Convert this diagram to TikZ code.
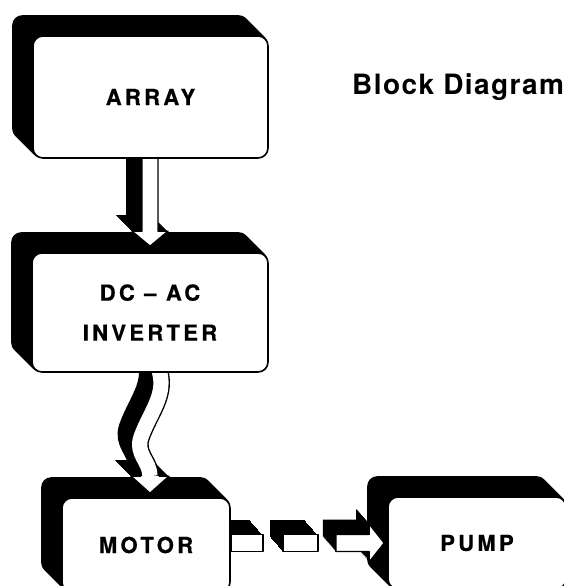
\documentclass[tikz,border=0pt]{standalone}
\usepackage{fontspec}
\newfontfamily\blockfont[LetterSpace=15, FakeBold=0.6]{TeX Gyre Heros}
\newfontfamily\titlefont[LetterSpace=5]{TeX Gyre Heros}
\usetikzlibrary{calc}
\pgfdeclarelayer{background}
\pgfsetlayers{background,main}
% hollow arrows: down from #1 to tip #2, right from #1 to tip #2
\newcommand{\arrowdn}[2]{($(#2|-#1)+(-8,0)$) -- ($(#2)+(-8,-15)$) -- ($(#2)+(-18,-15)$) -- (#2)
  -- ($(#2)+(18,-15)$) -- ($(#2)+(8,-15)$) -- ($(#2|-#1)+(8,0)$) -- cycle}
\newcommand{\arrowrt}[2]{($(#1|-#2)+(0,-8.5)$) -- ($(#2)+(-15,-8.5)$) -- ($(#2)+(-15,-19)$) -- (#2)
  -- ($(#2)+(-15,19)$) -- ($(#2)+(-15,8.5)$) -- ($(#1|-#2)+(0,8.5)$) -- cycle}
\newcommand{\wavyshaft}{(w0) .. controls +(16,30) and +(10,-28) .. (wm) .. controls +(-6,17) and +(0,-15) .. (hb)}
\newcommand{\wavyhead}{($(hb)+(-9,0)$) -- ($(hb)+(-19,0)$) -- (wt) -- ($(hb)+(19,0)$) -- ($(hb)+(9,0)$)}
\tikzset{
  block/.style={draw, line width=1.6pt, fill=white, rounded corners=10pt, inner sep=0pt,
    align=center, font=\blockfont\bfseries\fontsize{22}{40}\selectfont},
  drop/.style={fill=black, transform canvas={shift={#1}}},
  body/.style={draw, line width=1.4pt, fill=white, line join=round},
}
\begin{document}
\begin{tikzpicture}[x=1pt, y=-1pt]
  \useasboundingbox (0,0) rectangle (564,586);
  % front faces
  \node[block, minimum width=235pt, minimum height=122pt] (array) at (150.5,97) {ARRAY};
  \node[block, minimum width=236pt, minimum height=119pt] (inv) at (150,312.5) {DC – AC\\INVERTER};
  \node[block, minimum width=168pt, minimum height=94pt] (motor) at (146,545) {MOTOR};
  \node[block, minimum width=178pt, minimum height=92pt] (pump) at (477,543) {PUMP};
  \node[anchor=base west, inner sep=0pt, font=\titlefont\bfseries\fontsize{28}{32}\selectfont]
    (title) at (352,94) {Block Diagram};
  % connector points
  \coordinate (a1) at ($(array.south)+(0,-10)$);
  \coordinate (t1) at ($(inv.north)+(0,-6)$);
  \coordinate (w0) at ($(inv.south)+(5,-12)$);
  \coordinate (wm) at (141,437);
  \coordinate (hb) at ($(motor.north)+(4,-21)$);
  \coordinate (wt) at ($(motor.north)+(4,-4)$);
  \coordinate (t3) at ($(pump.west)+(-3,0)$);
  \coordinate (cp) at (motor.east |- t3);
  \coordinate (c3) at ($(cp)+(105,0)$);
  \begin{pgfonlayer}{background}
    \fill[white] (0,0) rectangle (564,586);
    % solid black depth of the blocks
    \foreach \s in {1,...,20}{
      \foreach \b in {array,inv,motor,pump}
        \path[drop={(-\s,-\s)}, rounded corners=10pt] (\b.north west) rectangle (\b.south east);}
    % depth of the arrows and the coupling
    \foreach \s in {1,...,16}{
      \path[drop={(-\s,-\s)}] \arrowdn{a1}{t1};
      \path[drop={(-\s,-\s)}] \wavyhead;}
    \foreach \s in {1,...,13}
      \draw[line width=18pt, transform canvas={shift={(-\s,{-0.8*\s})}}] \wavyshaft;
    \foreach \s in {1,...,15}{
      \path[drop={({-0.87*\s},-\s)}] ($(cp)+(0,-8.5)$) rectangle ($(cp)+(32,8.5)$);
      \path[drop={({-0.87*\s},-\s)}] ($(cp)+(52,-8.5)$) rectangle ($(cp)+(87,8.5)$);
      \path[drop={({-0.87*\s},-\s)}] \arrowrt{c3}{t3};}
    % white faces of the arrows
    \path[body] \arrowdn{a1}{t1};
    \draw[line width=18pt] \wavyshaft;
    \draw[line width=15.2pt, white] \wavyshaft;
    \filldraw[body] \wavyhead;
    \path[body] ($(cp)+(0,-8.5)$) rectangle ($(cp)+(32,8.5)$);
    \path[body] ($(cp)+(52,-8.5)$) rectangle ($(cp)+(87,8.5)$);
    \path[body] \arrowrt{c3}{t3};
  \end{pgfonlayer}
\end{tikzpicture}
\end{document}
